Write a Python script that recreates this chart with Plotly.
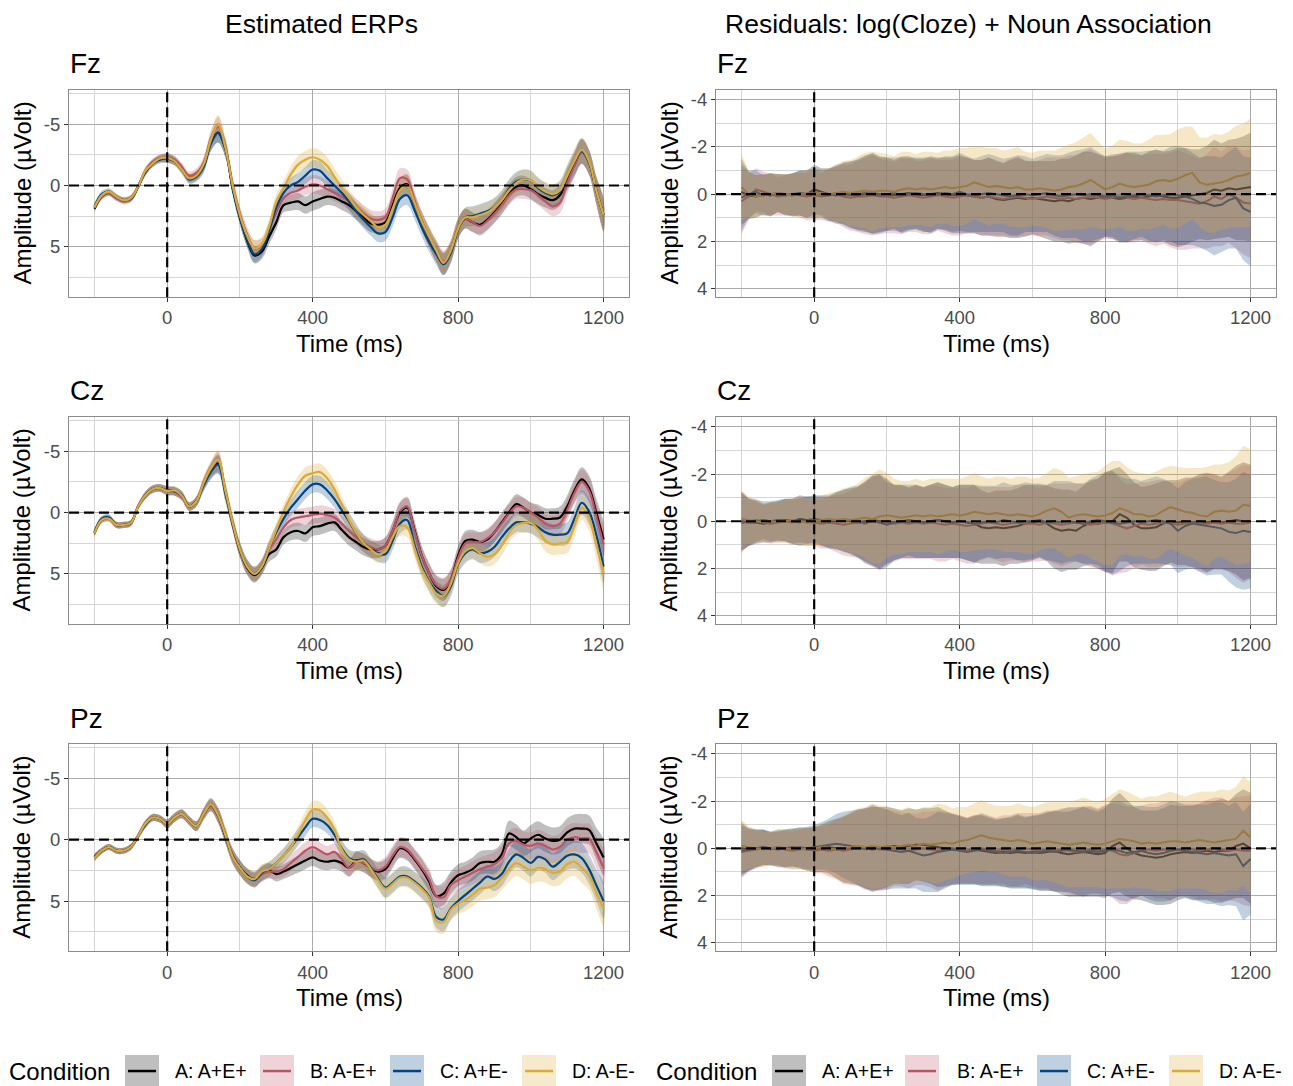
import plotly.graph_objects as go

W, H = 1293, 1086

# ---------------- data ----------------
T = [-200, -180, -160, -140, -120, -100, -80, -60, -40, -20, 0, 20, 40, 60, 80, 100, 120, 140, 160, 180,
     200, 220, 240, 260, 280, 300, 320, 340, 360, 380, 400, 420, 440, 460, 480, 500, 520, 540, 560, 580,
     600, 620, 640, 660, 680, 700, 720, 740, 760, 780, 800, 820, 840, 860, 880, 900, 920, 940, 960, 980,
     1000, 1020, 1040, 1060, 1080, 1100, 1120, 1140, 1160, 1180, 1200]

CONDITIONS = ["A: A+E+", "B: A-E+", "C: A+E-", "D: A-E-"]
ELECTRODES = ["Fz", "Cz", "Pz"]
X_TICKS = [0, 400, 800, 1200]
ERP_Y_TICKS = [-5, 0, 5]
RES_Y_TICKS = [-4, -2, 0, 2, 4]

# Estimated ERPs (µV), Fz
fz_A = [1.9, 0.9, 0.6, 1.0, 1.2, 1.1, 0.1, -1.1, -1.8, -2.2,
        -2.2, -2.0, -1.4, -0.6, -0.8, -1.6, -3.5, -4.3, -3.0, 0.2,
        2.6, 4.5, 5.7, 5.4, 4.2,
        3.0, 1.6, 1.4, 1.3, 1.6, 1.3, 1.1, 0.9, 1.0, 1.3,
        1.6, 2.1, 2.6, 3.1, 3.2, 3.0, 1.6, 0.2, -0.1, 1.4,
        2.9, 4.2, 5.4, 6.4, 5.4, 3.5, 2.7, 3.0, 3.2, 2.8,
        2.2, 1.5, 0.7, 0.1, 0.0, 0.3, 0.7, 1.0, 1.2, 0.8,
        -0.5, -1.7, -2.8, -1.9, 0.4, 2.4]
fz_B = [1.8, 0.9, 0.6, 1.0, 1.3, 1.1, 0.1, -1.2, -1.9, -2.2,
        -2.3, -2.1, -1.5, -0.8, -1.0, -1.8, -3.8, -4.8, -3.2, -0.1,
        2.3, 4.0, 5.1, 4.9, 3.6,
        2.2, 1.0, 0.6, 0.4, 0.1, -0.1, 0.0, 0.3, 0.6, 0.9,
        1.3, 1.8, 2.3, 2.7, 2.8, 2.6, 1.0, -0.6, -0.5, 1.2,
        2.9, 4.2, 5.3, 6.2, 5.3, 3.5, 2.7, 3.0, 3.3, 2.9,
        2.3, 1.6, 0.8, 0.3, 0.3, 0.4, 0.8, 1.3, 1.7, 1.4,
        -0.2, -1.6, -2.7, -1.9, 0.3, 2.4]
fz_C = [1.7, 0.7, 0.5, 0.9, 1.2, 1.0, 0.1, -1.1, -1.8, -2.1,
        -2.2, -2.0, -1.3, -0.5, -0.7, -1.5, -3.4, -4.3, -3.0, 0.2,
        2.6, 4.4, 5.6, 5.2, 3.7,
        1.8, 0.6, 0.0, -0.3, -0.8, -1.3, -1.2, -0.6, 0.0, 0.6,
        1.3, 2.1, 2.8, 3.4, 3.9, 3.8, 2.6, 1.1, 0.8, 2.0,
        3.4, 4.6, 5.6, 6.4, 5.5, 3.6, 2.6, 2.5, 2.3, 2.1,
        1.8, 1.2, 0.3, -0.3, -0.5, -0.4, 0.2, 0.6, 0.8, 0.5,
        -0.7, -1.9, -2.8, -1.9, 0.4, 2.4]
fz_D = [1.8, 0.8, 0.5, 0.9, 1.2, 1.0, 0.1, -1.2, -1.8, -2.2,
        -2.25, -2.0, -1.3, -0.6, -0.8, -1.7, -3.7, -4.95, -3.1, 0.0,
        2.4, 4.1, 5.1, 4.8, 3.4,
        1.3, 0.2, -0.9, -1.7, -2.1, -2.3, -2.1, -1.6, -0.7, 0.2,
        1.0, 1.8, 2.4, 2.9, 3.4, 3.2, 1.9, 0.4, 0.0, 1.4,
        2.9, 4.1, 5.3, 6.3, 5.3, 3.5, 2.6, 2.6, 2.4, 2.2,
        1.8, 1.2, 0.4, -0.2, -0.5, -0.4, 0.1, 0.5, 0.7, 0.4,
        -0.8, -2.0, -2.9, -2.0, 0.4, 2.4]
fz_se = [0.3, 0.25, 0.25, 0.25, 0.25, 0.25, 0.25, 0.3, 0.3, 0.3,
         0.35, 0.35, 0.35, 0.35, 0.4, 0.5, 0.65, 0.8, 0.7, 0.6,
         0.6, 0.6, 0.65, 0.6, 0.6,
         0.6, 0.6, 0.65, 0.7, 0.7, 0.75, 0.75, 0.7, 0.7, 0.7,
         0.7, 0.7, 0.7, 0.7, 0.7, 0.7, 0.75, 0.8, 0.8, 0.75,
         0.75, 0.8, 0.85, 0.9, 0.85, 0.8, 0.8, 0.8, 0.8, 0.8,
         0.8, 0.8, 0.8, 0.8, 0.8, 0.8, 0.8, 0.8, 0.8, 0.85,
         0.9, 0.95, 1.0, 1.0, 1.1, 1.3]

# Estimated ERPs (µV), Cz
cz_A = [1.7, 0.6, 0.45, 1.0, 1.0, 0.85, -0.5, -1.4, -1.9, -2.0,
        -1.8, -1.75, -1.4, -0.5, -0.9, -2.3, -3.4, -4.0, -1.7, 0.9,
        3.1, 4.5, 5.1, 4.5, 3.4,
        3.0, 2.0, 1.6, 1.5, 1.7, 1.2, 1.1, 0.9, 0.8, 1.4,
        2.0, 2.4, 2.8, 3.0, 3.0, 2.7, 1.5, 0.0, -0.4, 1.4,
        3.5, 4.9, 6.0, 6.3, 5.5, 3.5, 2.3, 2.2, 2.4, 2.2,
        1.6, 0.8, 0.0, -0.7, -0.4, 0.0, 0.2, 0.5, 0.5, 0.4,
        -0.5, -1.8, -2.7, -2.0, 0.0, 2.2]
cz_B = [1.6, 0.6, 0.5, 1.0, 1.0, 0.9, -0.5, -1.4, -1.9, -2.0,
        -1.8, -1.7, -1.3, -0.5, -0.9, -2.4, -3.5, -4.2, -1.7, 0.8,
        3.0, 4.4, 5.0, 4.4, 3.0,
        2.2, 1.2, 0.6, 0.4, 0.3, 0.2, 0.1, 0.2, 0.4, 0.9,
        1.5, 2.0, 2.5, 2.8, 3.0, 2.7, 1.5, -0.1, -0.5, 1.5,
        3.5, 4.9, 5.9, 6.2, 5.5, 3.7, 2.5, 2.4, 2.4, 2.1,
        1.6, 0.9, 0.1, -0.5, -0.4, 0.0, 0.4, 0.9, 1.1, 0.9,
        -0.2, -1.6, -2.5, -1.8, 0.3, 2.6]
cz_C = [1.6, 0.5, 0.4, 1.0, 1.0, 0.85, -0.5, -1.4, -1.9, -2.0,
        -1.75, -1.75, -1.4, -0.5, -0.9, -2.2, -3.3, -3.9, -1.6, 0.9,
        3.0, 4.4, 5.0, 4.4, 2.9,
        1.6, 0.5, -0.4, -1.1, -1.8, -2.3, -2.3, -1.8, -1.1, -0.2,
        0.7, 1.7, 2.5, 3.0, 3.3, 3.4, 2.3, 0.9, 0.6, 2.6,
        4.4, 5.6, 6.4, 6.8, 6.0, 4.2, 3.3, 3.0, 3.3, 3.2,
        2.8, 2.0, 1.3, 0.8, 0.8, 0.9, 1.2, 1.6, 1.8, 1.8,
        1.7, 0.5, -0.8, -0.1, 1.8, 4.4]
cz_D = [1.7, 0.6, 0.5, 1.0, 1.0, 0.85, -0.5, -1.4, -1.9, -2.0,
        -1.75, -1.8, -1.4, -0.5, -0.9, -2.4, -3.6, -4.3, -1.8, 0.8,
        3.0, 4.4, 5.0, 4.4, 2.9,
        1.4, -0.1, -1.3, -2.3, -3.0, -3.2, -3.3, -2.8, -1.9, -0.65,
        0.6, 1.65, 2.5, 3.0, 3.4, 3.15, 2.0, 1.1, 1.2, 2.9,
        4.6, 5.7, 6.6, 6.8, 5.8, 4.1, 3.15, 2.9, 3.3, 3.6,
        3.4, 2.7, 1.65, 1.0, 0.85, 0.85, 1.4, 2.3, 2.6, 2.5,
        2.4, 1.0, -0.4, 0.4, 2.6, 4.9]
cz_se = [0.3, 0.25, 0.25, 0.25, 0.25, 0.25, 0.25, 0.3, 0.3, 0.3,
         0.35, 0.35, 0.35, 0.35, 0.4, 0.5, 0.6, 0.75, 0.7, 0.6,
         0.6, 0.6, 0.6, 0.6, 0.6,
         0.6, 0.6, 0.65, 0.7, 0.7, 0.7, 0.7, 0.7, 0.7, 0.7,
         0.7, 0.7, 0.7, 0.7, 0.7, 0.7, 0.75, 0.8, 0.8, 0.75,
         0.75, 0.8, 0.85, 0.9, 0.85, 0.8, 0.8, 0.8, 0.8, 0.8,
         0.8, 0.8, 0.8, 0.8, 0.8, 0.8, 0.85, 0.85, 0.85, 0.9,
         0.9, 0.95, 1.0, 1.05, 1.15, 1.35]

# Estimated ERPs (µV), Pz
pz_A = [1.45, 0.9, 0.6, 0.9, 0.9, 0.6, -0.3, -1.3, -1.8, -1.7,
        -1.3, -1.8, -2.1, -1.55, -1.1, -2.1, -2.8, -1.95, -0.3, 1.3,
        2.25, 2.9, 3.2, 2.8, 2.5,
        2.8, 2.6, 2.3, 2.0, 1.7, 1.45, 1.7, 1.8, 1.7, 1.9,
        2.3, 1.7, 1.9, 2.3, 2.6, 2.4, 1.5, 0.7, 0.9, 1.6,
        2.4, 3.4, 4.6, 4.4, 3.5, 2.9, 2.7, 2.4, 1.9, 1.8,
        1.8, 1.2, -0.5, -0.2, 0.3, -0.1, -0.4, -0.1, 0.1, 0.0,
        -0.6, -0.9, -0.9, -0.8, 0.3, 1.45]
pz_B = [1.5, 0.9, 0.6, 0.9, 0.9, 0.6, -0.3, -1.3, -1.8, -1.7,
        -1.3, -1.8, -2.1, -1.6, -1.1, -2.0, -2.8, -2.0, -0.4, 1.3,
        2.3, 3.0, 3.3, 2.8, 2.6,
        2.6, 2.4, 1.9, 1.4, 0.9, 0.6, 0.9, 1.2, 1.0, 1.6,
        2.3, 1.8, 1.9, 2.3, 2.5, 2.2, 1.3, 0.6, 0.8, 1.5,
        2.3, 3.2, 4.6, 4.7, 3.7, 3.3, 3.0, 2.7, 2.4, 2.2,
        2.0, 1.5, 0.3, 0.1, 0.4, 0.5, 0.3, 0.5, 0.8, 0.6,
        0.0, -0.2, -0.1, -0.1, 1.0, 2.3]
pz_C = [1.4, 0.9, 0.6, 0.9, 0.9, 0.6, -0.3, -1.2, -1.8, -1.7,
        -1.3, -1.8, -2.1, -1.55, -1.1, -2.1, -2.9, -2.0, -0.3, 1.4,
        2.3, 3.0, 3.3, 2.7, 2.4,
        1.9, 1.3, 0.6, -0.2, -1.0, -1.7, -1.6, -1.2, -0.4, 0.7,
        1.5, 1.7, 1.6, 2.3, 3.2, 3.9, 3.5, 3.0, 3.0, 3.4,
        3.9, 4.6, 6.3, 6.5, 5.6, 5.0, 4.5, 4.0, 3.5, 3.0,
        3.2, 2.8, 1.8, 1.2, 1.5, 1.9, 1.4, 1.6, 2.2, 1.8,
        1.3, 1.2, 1.5, 2.4, 3.7, 5.0]
pz_D = [1.5, 0.9, 0.6, 0.9, 0.9, 0.6, -0.3, -1.3, -1.8, -1.7,
        -1.3, -1.8, -2.1, -1.55, -1.1, -2.1, -2.9, -2.0, -0.4, 1.4,
        2.3, 3.0, 3.2, 2.6, 2.4,
        1.9, 1.3, 0.6, -0.4, -1.6, -2.45, -2.4, -1.8, -0.8, 0.8,
        1.6, 1.8, 1.7, 2.4, 3.3, 4.0, 3.6, 3.1, 3.1, 3.5,
        4.0, 4.7, 6.6, 6.7, 5.7, 5.2, 4.9, 4.5, 4.0, 3.9,
        3.7, 3.1, 2.4, 1.9, 2.2, 2.5, 2.3, 2.4, 2.7, 2.6,
        2.0, 1.8, 2.3, 2.9, 4.3, 5.6]
pz_se = [0.3, 0.25, 0.25, 0.25, 0.25, 0.25, 0.25, 0.3, 0.3, 0.3,
         0.35, 0.35, 0.35, 0.35, 0.4, 0.45, 0.5, 0.6, 0.6, 0.6,
         0.6, 0.6, 0.6, 0.6, 0.6,
         0.6, 0.6, 0.65, 0.7, 0.7, 0.7, 0.7, 0.7, 0.7, 0.7,
         0.7, 0.75, 0.75, 0.75, 0.75, 0.8, 0.8, 0.8, 0.8, 0.8,
         0.85, 0.85, 0.9, 0.95, 0.9, 0.9, 0.9, 0.95, 0.95, 0.95,
         1.0, 1.0, 1.05, 1.05, 1.05, 1.1, 1.1, 1.1, 1.1, 1.1,
         1.15, 1.15, 1.2, 1.2, 1.3, 1.45]

# Residuals (µV), Fz
rfz_A = [-0.1, 0.05, 0.1, 0.0, 0.05, -0.05, 0.0, 0.05, -0.05, 0.0,
         -0.2, -0.1, 0.0, 0.05, -0.05, 0.0, 0.05, 0.0, -0.05, 0.0,
         0.0, 0.05, 0.0, -0.05, 0.0, 0.05, 0.0, -0.05, 0.0, 0.05,
         0.0, 0.05, 0.1, 0.15, 0.1, 0.2, 0.25, 0.2, 0.15, 0.2,
         0.15, 0.2, 0.25, 0.3, 0.25, 0.3, 0.2, 0.15, 0.2, 0.15,
         0.1, 0.15, 0.2, 0.15, 0.1, 0.15, 0.1, 0.05, 0.1, 0.15,
         0.15, 0.1, 0.05, 0.0, -0.05, -0.2, -0.15, -0.25, -0.2, -0.25, -0.3]
rfz_B = [0.3, 0.1, -0.2, -0.1, 0.0, 0.1, 0.05, 0.0, 0.05, 0.1,
         0.05, 0.1, 0.05, 0.0, 0.1, 0.15, 0.1, 0.1, 0.05, 0.1,
         0.1, 0.15, 0.1, 0.05, 0.1, 0.15, 0.1, 0.05, 0.1, 0.15,
         0.1, 0.05, 0.1, 0.15, 0.1, 0.15, 0.2, 0.15, 0.1, 0.15,
         0.2, 0.15, 0.1, 0.15, 0.2, 0.15, 0.2, 0.15, 0.1, 0.15,
         0.2, 0.15, 0.1, 0.15, 0.2, 0.15, 0.2, 0.25, 0.2, 0.25,
         0.25, 0.3, 0.35, 0.4, 0.3, 0.1, 0.2, 0.0, 0.15, 0.35, 0.4]
rfz_C = [0.15, 0.0, -0.1, 0.05, 0.0, -0.05, 0.05, 0.0, -0.05, 0.0,
         -0.05, 0.0, 0.05, -0.05, 0.0, 0.05, 0.0, -0.05, 0.0, 0.05,
         0.0, -0.05, 0.05, 0.0, -0.05, 0.0, 0.05, 0.0, -0.05, 0.0,
         -0.1, 0.0, 0.05, 0.0, -0.05, 0.0, 0.05, 0.1, 0.05, 0.0,
         0.05, 0.0, -0.05, 0.05, 0.1, 0.05, 0.0, 0.05, 0.0, 0.05,
         0.1, 0.05, 0.15, 0.1, 0.05, 0.0, 0.05, 0.1, 0.05, 0.0,
         0.05, 0.1, 0.2, 0.35, 0.4, 0.5, 0.45, 0.25, 0.15, 0.6, 0.75]
rfz_D = [-0.3, 0.0, 0.1, 0.05, 0.0, -0.05, 0.0, 0.05, 0.0, -0.05,
         0.0, -0.05, 0.0, -0.05, -0.1, -0.05, -0.1, -0.15, -0.1, -0.15,
         -0.15, -0.1, -0.2, -0.25, -0.2, -0.25, -0.2, -0.25, -0.3, -0.25,
         -0.3, -0.35, -0.5, -0.4, -0.3, -0.35, -0.3, -0.25, -0.3, -0.2,
         -0.2, -0.25, -0.2, -0.15, -0.2, -0.3, -0.35, -0.45, -0.6, -0.4,
         -0.2, -0.3, -0.45, -0.35, -0.3, -0.35, -0.4, -0.55, -0.6, -0.55,
         -0.65, -0.8, -0.9, -0.5, -0.4, -0.45, -0.5, -0.6, -0.75, -0.8, -0.9]
rfz_w = [1.4, 1.0, 0.9, 0.85, 0.9, 0.8, 0.85, 0.9, 0.95, 1.0,
         1.05, 1.0, 1.1, 1.2, 1.3, 1.4, 1.5, 1.6, 1.7, 1.6,
         1.55, 1.5, 1.6, 1.55, 1.5, 1.55, 1.6, 1.5, 1.55, 1.6,
         1.65, 1.6, 1.55, 1.6, 1.65, 1.6, 1.55, 1.65, 1.7, 1.6,
         1.55, 1.6, 1.65, 1.7, 1.75, 1.8, 1.85, 1.95, 2.0, 1.85,
         1.7, 1.75, 1.85, 1.9, 1.85, 1.8, 1.9, 1.95, 1.9, 2.0,
         2.1, 2.05, 1.95, 1.9, 2.0, 2.1, 2.0, 2.05, 2.15, 2.2, 2.3]

# Residuals (µV), Cz
rcz_A = [0.0, 0.05, 0.05, 0.1, 0.05, 0.0, -0.05, 0.0, -0.1, -0.05,
         -0.05, 0.0, 0.05, 0.0, -0.05, 0.0, 0.05, 0.0, -0.05, 0.0,
         0.0, 0.05, 0.0, 0.05, 0.0, 0.05, 0.0, -0.05, 0.0, 0.05,
         0.0, 0.05, 0.1, 0.25, 0.3, 0.25, 0.3, 0.25, 0.2, 0.1,
         0.05, 0.0, 0.1, 0.3, 0.4, 0.35, 0.4, 0.2, 0.05, 0.1,
         0.05, 0.0, -0.3, -0.15, 0.15, 0.3, 0.3, 0.25, 0.1, 0.0,
         0.05, 0.0, 0.05, 0.0, 0.05, 0.0, 0.05, 0.0, -0.05, 0.0, 0.0]
rcz_B = [0.1, 0.0, -0.05, 0.05, 0.1, 0.05, 0.0, 0.05, 0.0, 0.05,
         0.05, 0.1, 0.05, 0.1, 0.15, 0.1, 0.05, 0.1, 0.0, 0.05,
         0.05, 0.1, 0.05, 0.1, 0.05, 0.1, 0.05, 0.1, 0.15, 0.1,
         0.15, 0.2, 0.15, 0.1, 0.05, 0.1, 0.15, 0.1, 0.05, 0.1,
         0.1, 0.15, 0.05, 0.1, 0.15, 0.1, 0.05, 0.1, 0.15, 0.1,
         0.05, 0.1, 0.2, 0.3, 0.2, 0.1, 0.15, 0.1, 0.05, 0.1,
         0.15, 0.1, 0.05, 0.1, 0.1, 0.05, 0.1, 0.05, 0.1, 0.1, 0.05]
rcz_C = [0.0, 0.05, 0.0, -0.05, 0.0, -0.05, -0.05, 0.0, 0.05, -0.05,
         -0.1, -0.05, 0.0, -0.05, 0.0, -0.05, 0.0, 0.05, 0.0, 0.05,
         0.15, 0.05, 0.0, -0.05, 0.0, 0.05, 0.0, -0.05, 0.0, 0.05,
         0.0, 0.05, 0.1, 0.05, 0.0, 0.05, -0.05, 0.0, 0.05, 0.0,
         0.0, -0.05, 0.05, 0.0, 0.05, 0.0, 0.05, 0.1, 0.0, -0.05,
         0.0, 0.05, 0.1, 0.05, 0.0, 0.05, 0.0, -0.05, 0.0, 0.1,
         0.4, 0.2, 0.1, 0.15, 0.2, 0.25, 0.3, 0.45, 0.5, 0.4, 0.45]
rcz_D = [-0.1, -0.05, 0.0, 0.05, 0.0, 0.05, 0.0, -0.05, 0.0, 0.05,
         0.0, -0.05, -0.1, -0.05, -0.1, -0.05, -0.1, -0.15, -0.1, -0.2,
         -0.25, -0.2, -0.15, -0.2, -0.25, -0.2, -0.25, -0.2, -0.25, -0.3,
         -0.25, -0.3, -0.4, -0.35, -0.3, -0.35, -0.3, -0.25, -0.3, -0.25,
         -0.2, -0.3, -0.45, -0.55, -0.4, -0.15, -0.25, -0.3, -0.25, -0.2,
         -0.25, -0.35, -0.55, -0.45, -0.3, -0.3, -0.2, -0.25, -0.45, -0.6,
         -0.5, -0.4, -0.35, -0.25, -0.2, -0.4, -0.45, -0.4, -0.45, -0.7, -0.65]
rcz_w = [1.25, 1.0, 0.9, 0.8, 0.85, 0.85, 0.9, 0.95, 1.0, 1.0,
         1.0, 1.05, 1.1, 1.2, 1.3, 1.4, 1.5, 1.7, 1.9, 2.0,
         1.8, 1.6, 1.55, 1.5, 1.55, 1.5, 1.55, 1.6, 1.55, 1.5,
         1.55, 1.6, 1.65, 1.55, 1.5, 1.55, 1.6, 1.55, 1.6, 1.65,
         1.6, 1.55, 1.6, 1.7, 1.75, 1.7, 1.65, 1.7, 1.8, 1.9,
         2.1, 2.2, 2.0, 1.85, 1.8, 1.75, 1.8, 1.85, 1.8, 1.75,
         1.8, 1.85, 1.9, 2.0, 2.1, 2.0, 1.95, 2.1, 2.3, 2.5, 2.4]

# Residuals (µV), Pz
rpz_A = [0.0, 0.05, 0.0, -0.05, 0.0, 0.05, 0.0, -0.05, 0.0, 0.05,
         0.05, 0.0, -0.05, 0.0, 0.05, 0.0, -0.05, 0.0, 0.05, 0.0,
         -0.05, -0.1, -0.05, -0.1, -0.15, -0.15, -0.1, -0.05, 0.0, 0.05,
         0.05, 0.1, 0.05, 0.1, 0.15, 0.2, 0.15, 0.2, 0.15, 0.2,
         0.15, 0.2, 0.15, 0.1, 0.2, 0.25, 0.2, 0.15, 0.2, 0.25,
         0.2, -0.1, -0.25, 0.0, 0.2, 0.3, 0.35, 0.4, 0.35, 0.25,
         0.2, 0.15, 0.2, 0.15, 0.1, 0.15, 0.1, 0.1, -0.1, -0.2, 0.0]
rpz_B = [0.15, 0.1, 0.05, 0.0, 0.05, 0.0, 0.05, 0.1, 0.05, 0.0,
         0.1, 0.05, 0.1, 0.05, 0.1, 0.05, 0.0, 0.05, 0.0, 0.05,
         0.05, 0.0, 0.05, 0.1, 0.05, 0.0, 0.05, 0.1, 0.05, 0.0,
         0.05, 0.1, 0.05, 0.0, 0.05, 0.1, 0.05, 0.1, 0.05, 0.0,
         0.05, 0.1, 0.05, 0.1, 0.05, 0.1, 0.15, 0.1, 0.05, 0.1,
         0.05, 0.1, 0.25, 0.3, 0.2, 0.1, 0.05, 0.1, 0.05, 0.1,
         0.05, 0.0, 0.05, 0.1, 0.05, 0.0, 0.05, 0.1, 0.05, 0.1, 0.1]
rpz_C = [0.1, 0.05, 0.0, -0.05, 0.0, -0.05, 0.0, 0.0, -0.05, 0.0,
         -0.05, -0.1, -0.15, -0.2, -0.15, -0.1, -0.05, 0.0, -0.05, 0.0,
         0.05, 0.1, 0.15, 0.1, 0.2, 0.3, 0.25, 0.15, 0.1, 0.05,
         0.1, 0.15, 0.1, 0.05, 0.1, 0.15, 0.2, 0.15, 0.1, 0.15,
         0.2, 0.15, 0.1, 0.15, 0.1, 0.05, 0.1, 0.15, 0.1, 0.15,
         0.1, 0.05, 0.1, 0.2, 0.15, 0.1, 0.2, 0.25, 0.2, 0.1,
         0.05, 0.1, 0.15, 0.2, 0.25, 0.2, 0.25, 0.3, 0.25, 0.75, 0.45]
rpz_D = [-0.1, -0.05, 0.0, 0.05, 0.0, -0.05, 0.0, 0.05, 0.0, 0.05,
         0.0, -0.05, 0.0, 0.05, 0.0, -0.05, -0.1, -0.05, -0.1, -0.05,
         -0.1, -0.05, -0.1, -0.15, -0.1, -0.2, -0.15, -0.2, -0.25, -0.2,
         -0.3, -0.35, -0.45, -0.55, -0.45, -0.4, -0.35, -0.3, -0.35, -0.3,
         -0.2, -0.25, -0.3, -0.25, -0.2, -0.15, -0.2, -0.25, -0.2, -0.15,
         -0.2, -0.3, -0.4, -0.35, -0.3, -0.2, -0.25, -0.2, -0.25, -0.3,
         -0.3, -0.25, -0.3, -0.35, -0.3, -0.25, -0.3, -0.35, -0.4, -0.75, -0.45]
rpz_w = [1.1, 0.9, 0.8, 0.75, 0.7, 0.75, 0.8, 0.8, 0.85, 0.9,
         0.95, 1.0, 1.1, 1.25, 1.4, 1.5, 1.6, 1.7, 1.8, 1.75,
         1.7, 1.6, 1.55, 1.6, 1.5, 1.55, 1.6, 1.7, 1.6, 1.5,
         1.45, 1.4, 1.45, 1.5, 1.45, 1.4, 1.45, 1.5, 1.55, 1.5,
         1.55, 1.6, 1.65, 1.7, 1.75, 1.8, 1.85, 1.9, 1.85, 1.8,
         1.9, 2.0, 2.1, 2.05, 1.95, 1.9, 1.95, 2.0, 2.05, 2.1,
         2.0, 1.95, 2.0, 2.05, 2.1, 2.15, 2.2, 2.1, 2.2, 2.3, 2.35]

# ---------------- styling ----------------
LINE_COLORS = ["#000000", "#BB5566", "#004488", "#DDAA33"]
FILL_COLORS = ["rgba(0,0,0,0.25)", "rgba(187,85,102,0.25)", "rgba(0,68,136,0.25)", "rgba(221,170,51,0.28)"]
KEY_FILLS = ["#bfbfbf", "#eed4d9", "#bfd0e1", "#f6e9cc"]
FONT = "Liberation Sans, Arial, Helvetica, sans-serif"
TEXT_COL = "#000000"
TICK_COL = "#4d4d4d"
MAJOR_GRID = "#ababab"
MINOR_GRID = "#d6d6d6"
BORDER = "#8c8c8c"

def px(x):
    return x / W

def py(y):
    return 1 - y / H

COL_X = [(69, 629), (716, 1276)]
ROW_Y = [(89, 297), (417, 625), (745, 953)]

panels = [
    ("erp", [fz_A, fz_B, fz_C, fz_D], fz_se),
    ("res", [rfz_A, rfz_B, rfz_C, rfz_D], rfz_w),
    ("erp", [cz_A, cz_B, cz_C, cz_D], cz_se),
    ("res", [rcz_A, rcz_B, rcz_C, rcz_D], rcz_w),
    ("erp", [pz_A, pz_B, pz_C, pz_D], pz_se),
    ("res", [rpz_A, rpz_B, rpz_C, rpz_D], rpz_w),
]

for kind, means, w in panels:
    assert len(w) == len(T), (kind, len(w))
    for m in means:
        assert len(m) == len(T), (kind, len(m))

fig = go.Figure()
layout = dict(width=W, height=H, margin=dict(l=0, r=0, t=0, b=0),
              paper_bgcolor="white", plot_bgcolor="white",
              font=dict(family=FONT, color=TEXT_COL), showlegend=False)
shapes = []
annotations = []


def add_lines(means, xa, ya, shape, width):
    for m, c in zip(means, LINE_COLORS):
        fig.add_trace(go.Scatter(x=T, y=m, mode="lines", xaxis=xa, yaxis=ya,
                                 line=dict(color=c, width=width, shape=shape),
                                 hoverinfo="skip", showlegend=False))


def add_ribbons(means, w, xa, ya, shape):
    for m, f in zip(means, FILL_COLORS):
        upper = [a - b for a, b in zip(m, w)]
        lower = [a + b for a, b in zip(m, w)]
        fig.add_trace(go.Scatter(x=T + T[::-1], y=upper + lower[::-1], mode="lines",
                                 fill="toself", fillcolor=f, xaxis=xa, yaxis=ya,
                                 line=dict(width=0, color=f, shape=shape),
                                 hoverinfo="skip", showlegend=False))


for i, (kind, means, w) in enumerate(panels):
    n = i + 1
    row, col = i // 2, i % 2
    xa = "x" if n == 1 else f"x{n}"
    ya = "y" if n == 1 else f"y{n}"
    xkey = "xaxis" if n == 1 else f"xaxis{n}"
    ykey = "yaxis" if n == 1 else f"yaxis{n}"

    if kind == "erp":
        add_ribbons(means, w, xa, ya, "spline")
        add_lines(means, xa, ya, "spline", 2.2)
    else:
        add_lines(means, xa, ya, "linear", 2.0)
        add_ribbons(means, w, xa, ya, "linear")

    x0, x1 = COL_X[col]
    y0, y1 = ROW_Y[row]
    layout[xkey] = dict(
        domain=[px(x0), px(x1)], anchor=ya, range=[-270, 1270],
        tickmode="array", tickvals=X_TICKS, ticktext=[str(v) for v in X_TICKS],
        ticks="outside", ticklen=4, tickwidth=1, tickcolor="#333333",
        tickfont=dict(size=18.5, color=TICK_COL, family=FONT),
        showgrid=True, gridcolor=MAJOR_GRID, gridwidth=1,
        minor=dict(tickmode="array", tickvals=[-200, 200, 600, 1000], showgrid=True,
                   gridcolor=MINOR_GRID, gridwidth=1, ticks=""),
        showline=True, mirror=True, linecolor=BORDER, linewidth=1, zeroline=False)
    if kind == "erp":
        yt = ERP_Y_TICKS
        yr = [9.1, -7.8]
        ymin = [-7.5, -2.5, 2.5, 7.5]
    else:
        yt = RES_Y_TICKS
        yr = [4.36, -4.42]
        ymin = [-3, -1, 1, 3]
    layout[ykey] = dict(
        domain=[py(y1), py(y0)], anchor=xa, range=yr,
        tickmode="array", tickvals=yt, ticktext=[str(v) for v in yt],
        ticks="outside", ticklen=4, tickwidth=1, tickcolor="#333333",
        tickfont=dict(size=18.5, color=TICK_COL, family=FONT),
        showgrid=True, gridcolor=MAJOR_GRID, gridwidth=1,
        minor=dict(tickmode="array", tickvals=ymin, showgrid=True,
                   gridcolor=MINOR_GRID, gridwidth=1, ticks=""),
        showline=True, mirror=True, linecolor=BORDER, linewidth=1, zeroline=False)

    # dashed reference lines
    shapes.append(dict(type="line", xref=xa, yref=f"{ya} domain", x0=0, x1=0, y0=0, y1=1,
                       line=dict(color="black", width=2.2, dash="10px,5px"), layer="above"))
    shapes.append(dict(type="line", xref=f"{xa} domain", yref=ya, x0=0, x1=1, y0=0, y1=0,
                       line=dict(color="black", width=2.2, dash="10px,5px"), layer="above"))

    # panel title
    annotations.append(dict(text=ELECTRODES[row], xref="paper", yref="paper",
                            x=px(x0 - 1), y=py(y0 - 26), xanchor="left", yanchor="middle",
                            showarrow=False, font=dict(size=28, family=FONT, color=TEXT_COL)))
    # x title
    annotations.append(dict(text="Time (ms)", xref="paper", yref="paper",
                            x=px((x0 + x1) / 2), y=py(y1 + 46), xanchor="center", yanchor="middle",
                            showarrow=False, font=dict(size=24, family=FONT, color=TEXT_COL)))
    # y title
    annotations.append(dict(text="Amplitude (µVolt)", xref="paper", yref="paper",
                            x=px(x0 - 47), y=py((y0 + y1) / 2), xanchor="center", yanchor="middle",
                            textangle=-90, showarrow=False,
                            font=dict(size=24, family=FONT, color=TEXT_COL)))

# column titles
annotations.append(dict(text="Estimated ERPs", xref="paper", yref="paper", x=px(321), y=py(23),
                        xanchor="center", yanchor="middle", showarrow=False,
                        font=dict(size=26.5, family=FONT, color=TEXT_COL)))
annotations.append(dict(text="Residuals: log(Cloze) + Noun Association", xref="paper", yref="paper",
                        x=px(968), y=py(23), xanchor="center", yanchor="middle", showarrow=False,
                        font=dict(size=26.5, family=FONT, color=TEXT_COL)))

# legends (one under each column)
LEG_Y = 1073
legend_sets = [
    (7, [125, 260, 390, 522], [173, 308, 438, 570]),
    (654, [772, 905, 1037, 1169], [820, 955, 1085, 1217]),
]
for title_x, boxes, labels in legend_sets:
    annotations.append(dict(text="Condition", xref="paper", yref="paper", x=px(title_x), y=py(LEG_Y),
                            xanchor="left", yanchor="middle", showarrow=False,
                            font=dict(size=24, family=FONT, color=TEXT_COL)))
    for k in range(4):
        bx = boxes[k]
        shapes.append(dict(type="rect", xref="paper", yref="paper",
                           x0=px(bx), x1=px(bx + 34), y0=py(1088), y1=py(1057),
                           fillcolor=KEY_FILLS[k], line=dict(width=0)))
        shapes.append(dict(type="line", xref="paper", yref="paper",
                           x0=px(bx + 3), x1=px(bx + 31), y0=py(LEG_Y), y1=py(LEG_Y),
                           line=dict(color=LINE_COLORS[k], width=2.5)))
        annotations.append(dict(text=CONDITIONS[k], xref="paper", yref="paper", x=px(labels[k]),
                                y=py(LEG_Y), xanchor="left", yanchor="middle", showarrow=False,
                                font=dict(size=19.5, family=FONT, color=TEXT_COL)))

layout["shapes"] = shapes
layout["annotations"] = annotations
fig.update_layout(**layout)
fig.write_html("out.html")
